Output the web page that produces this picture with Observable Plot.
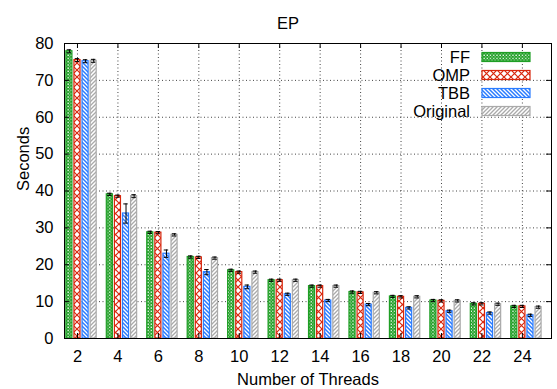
<!DOCTYPE html>
<html><head><meta charset="utf-8">
<script src="https://cdn.jsdelivr.net/npm/d3@7"></script>
<script src="https://cdn.jsdelivr.net/npm/@observablehq/plot@0.6"></script>
<style>
body{margin:0;background:#fff;}
#chart svg{font-family:"Liberation Sans",Arial,sans-serif;}
</style>
</head><body><div id="chart"></div>
<script>
const threads = [2, 4, 6, 8, 10, 12, 14, 16, 18, 20, 22, 24];
const seriesNames = ["FF", "OMP", "TBB", "Original"];
const ffValues   = [77.9, 39.1, 28.8, 22.1, 18.5, 15.8, 14.2, 12.6, 11.4, 10.3, 9.4, 8.7];
const ompValues  = [75.5, 38.6, 28.7, 22.0, 18.0, 15.8, 14.2, 12.5, 11.3, 10.2, 9.4, 8.7];
const tbbValues  = [75.2, 33.9, 23.0, 18.0, 14.0, 12.0, 10.3, 9.2, 8.3, 7.4, 6.9, 6.3];
const origValues = [75.3, 38.6, 28.1, 21.8, 18.0, 15.8, 14.2, 12.4, 11.3, 10.2, 9.3, 8.5];
const ffErr   = [0.4, 0.3, 0.3, 0.3, 0.3, 0.3, 0.3, 0.3, 0.3, 0.3, 0.3, 0.3];
const ompErr  = [0.4, 0.3, 0.3, 0.3, 0.3, 0.3, 0.3, 0.3, 0.3, 0.3, 0.3, 0.3];
const tbbErr  = [0.4, 2.6, 1.0, 0.7, 0.5, 0.3, 0.3, 0.3, 0.3, 0.3, 0.3, 0.3];
const origErr = [0.4, 0.4, 0.3, 0.3, 0.3, 0.3, 0.3, 0.3, 0.3, 0.3, 0.3, 0.3];
const yTicks = [0, 10, 20, 30, 40, 50, 60, 70, 80];
const colors = ["#1f9e25", "#d8260c", "#2a7cff", "#aaaaaa"];

const allValues = [ffValues, ompValues, tbbValues, origValues];
const allErr = [ffErr, ompErr, tbbErr, origErr];
const slot = 0.2, half = 0.075, cap = 0.055;
const rows = [];
threads.forEach((t, i) => {
  seriesNames.forEach((s, j) => {
    const c = i + (j - 1) * slot;
    rows.push({t, i, s, j, c, x1: c - half, x2: c + half, v: allValues[j][i], e: allErr[j][i]});
  });
});
const idx = threads.map((t, i) => i);
const fs = 16.5;
const W = 557, H = 389, mL = 64, mR = 6, mT = 43, mB = 51;
const fw = W - mL - mR, fh = H - mT - mB;

const marks = [
  Plot.ruleY(yTicks.slice(1, -1), {y: d => d, stroke: "#444", strokeDasharray: "1,2.5", strokeWidth: 1}),
  Plot.ruleX(idx, {x: d => d, stroke: "#444", strokeDasharray: "1,2.5", strokeWidth: 1}),
];
seriesNames.forEach((s, j) => {
  marks.push(Plot.rect(rows.filter(r => r.j === j), {
    x1: "x1", x2: "x2", y1: 0, y2: "v",
    fill: `url(#pat${j})`, stroke: colors[j], strokeWidth: 1.2
  }));
});
marks.push(
  Plot.ruleX(rows, {x: "c", y1: d => d.v - d.e, y2: d => d.v + d.e, stroke: "black", strokeWidth: 1}),
  Plot.ruleY(rows, {y: d => d.v - d.e, x1: d => d.c - cap, x2: d => d.c + cap, stroke: "black", strokeWidth: 1}),
  Plot.ruleY(rows, {y: d => d.v + d.e, x1: d => d.c - cap, x2: d => d.c + cap, stroke: "black", strokeWidth: 1}),
  // inward ticks
  Plot.ruleY(yTicks, {y: d => d, insetRight: fw - 5, stroke: "black"}),
  Plot.ruleY(yTicks, {y: d => d, insetLeft: fw - 5, stroke: "black"}),
  Plot.ruleX(idx, {x: d => d, insetTop: fh - 5, stroke: "black"}),
  Plot.ruleX(idx, {x: d => d, insetBottom: fh - 5, stroke: "black"}),
  Plot.frame({stroke: "black", strokeWidth: 1}),
  Plot.axisY({ticks: yTicks, tickSize: 0, tickPadding: 11, fontSize: fs, label: null}),
  Plot.axisX({ticks: idx, tickFormat: i => threads[i], tickSize: 0, tickPadding: 12, fontSize: fs, label: null}),
  Plot.text(["Seconds"], {frameAnchor: "left", dx: -41, rotate: -90, fontSize: fs, text: d => d}),
  Plot.text(["Number of Threads"], {frameAnchor: "bottom", dy: 46, fontSize: fs, text: d => d}),
  Plot.text(["EP"], {frameAnchor: "top", dy: -26, dx: -20, fontSize: fs, text: d => d})
);

const chart = Plot.plot({
  width: W, height: H,
  marginLeft: mL, marginRight: mR, marginTop: mT, marginBottom: mB,
  x: {type: "linear", domain: [-0.321, 11.72], axis: null},
  y: {domain: [0, 80], axis: null},
  style: {fontSize: fs + "px", color: "black", background: "white", overflow: "visible"},
  marks
});

const svg = d3.select(chart);
const defs = svg.insert("defs", ":first-child");
// FF: green with white dots
let p = defs.append("pattern").attr("id", "pat0").attr("patternUnits", "userSpaceOnUse").attr("width", 3.2).attr("height", 3.2);
p.append("rect").attr("width", 3.2).attr("height", 3.2).attr("fill", colors[0]);
p.append("rect").attr("x", 0.3).attr("y", 0.3).attr("width", 1.3).attr("height", 1.3).attr("fill", "white");
p.append("rect").attr("x", 1.9).attr("y", 1.9).attr("width", 1.0).attr("height", 1.0).attr("fill", "#cfeecf");
// OMP: red cross-hatch
p = defs.append("pattern").attr("id", "pat1").attr("patternUnits", "userSpaceOnUse").attr("width", 7).attr("height", 7);
p.append("rect").attr("width", 7).attr("height", 7).attr("fill", "white");
p.append("path").attr("d", "M0,0L7,7M7,0L0,7").attr("stroke", colors[1]).attr("stroke-width", 1.2);
// TBB: blue backslash lines
p = defs.append("pattern").attr("id", "pat2").attr("patternUnits", "userSpaceOnUse").attr("width", 4).attr("height", 4);
p.append("rect").attr("width", 4).attr("height", 4).attr("fill", "white");
p.append("path").attr("d", "M0,0L4,4M-1,3L1,5M3,-1L5,1").attr("stroke", colors[2]).attr("stroke-width", 1.5);
// Original: gray slash lines
p = defs.append("pattern").attr("id", "pat3").attr("patternUnits", "userSpaceOnUse").attr("width", 4).attr("height", 4);
p.append("rect").attr("width", 4).attr("height", 4).attr("fill", "white");
p.append("path").attr("d", "M0,4L4,0M-1,1L1,-1M3,5L5,3").attr("stroke", colors[3]).attr("stroke-width", 1.3);

// legend
const lg = svg.append("g").attr("font-size", fs).attr("font-family", '"Liberation Sans",Arial,sans-serif');
seriesNames.forEach((s, j) => {
  const y = 57 + 18 * j;
  lg.append("text").attr("x", 470).attr("y", y).attr("dy", "0.35em").attr("text-anchor", "end").attr("fill", "black").text(s);
  lg.append("rect").attr("x", 482).attr("y", y - 4.5).attr("width", 48).attr("height", 9)
    .attr("fill", `url(#pat${j})`).attr("stroke", colors[j]).attr("stroke-width", 1.2);
});

document.getElementById("chart").appendChild(chart);
</script>
</body></html>
